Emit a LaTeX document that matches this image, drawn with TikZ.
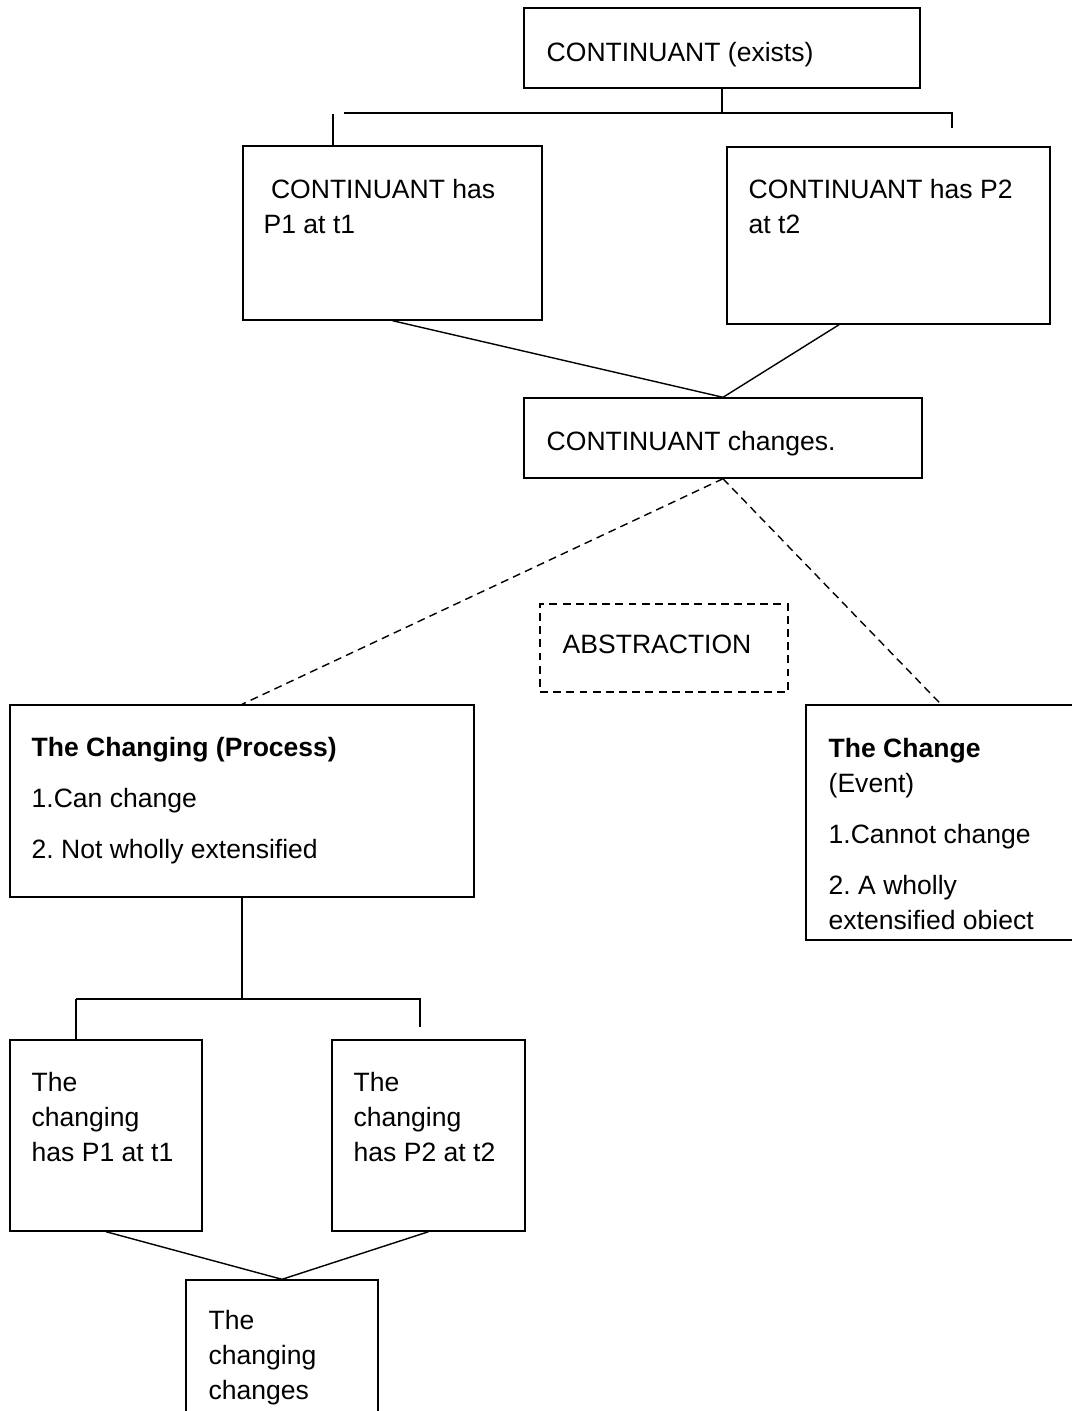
\documentclass[tikz,border=0pt]{standalone}
\usepackage{fontspec}
\setmainfont{Liberation Sans}
\frenchspacing
\usetikzlibrary{fit}

\begin{document}
\begin{tikzpicture}[x=0.02cm, y=-0.02cm, line width=0.8pt,
    box/.style={draw, inner sep=0pt},
    txt/.style={anchor=base west, align=left, inner sep=0pt,
      font=\fontsize{15.1}{19.9}\selectfont},
    dashline/.style={dash pattern=on 4.5pt off 3pt}]
  \clip (0,0) rectangle (1072,1411);
  % boxes
  \node[box, fit={(524,8) (920,88)}] (top) {};
  \node[box, fit={(243,146) (542,320)}] (hasP1) {};
  \node[box, fit={(727,147) (1050,324)}] (hasP2) {};
  \node[box, fit={(524,398) (922,478)}] (chg) {};
  \node[box, fit={(540,604) (788,692)}, dashline] (abs) {};
  \node[box, fit={(10,705) (474,897)}] (proc) {};
  \node[box, fit={(806,705) (1076,940)}] (evt) {};
  \node[box, fit={(10,1040) (202,1231)}] (cp1) {};
  \node[box, fit={(332,1040) (525,1231)}] (cp2) {};
  \node[box, fit={(186,1280) (378,1430)}] (cc) {};
  % texts (anchored at the baseline of the last line)
  \node[txt] (topT) at (546,61) {CONTINUANT (exists)};
  \node[txt] (hasP1T) at (263,233) {\ CONTINUANT has\\P1 at t1};
  \node[txt] (hasP2T) at (748,233) {CONTINUANT has P2\\at t2};
  \node[txt] (chgT) at (546,450) {CONTINUANT changes.};
  \node[txt] (absT) at (562,653) {ABSTRACTION};
  \node[txt] (procT) at (31,858) {\textbf{The Changing (Process)}\\[9pt]1.Can change\\[9pt]2. Not wholly extensified};
  \node[txt] (evtT) at (828,929) {\textbf{The Change}\\(Event)\\[9pt]1.Cannot change\\[9pt]2. A wholly\\extensified obiect};
  \node[txt] (cp1T) at (31,1161) {The\\changing\\has P1 at t1};
  \node[txt] (cp2T) at (353,1161) {The\\changing\\has P2 at t2};
  \node[txt] (ccT) at (208,1399) {The\\changing\\changes};
  % upper bracket
  \coordinate (brkL) at (344,113);
  \coordinate (brkR) at (952,113);
  \coordinate (brkRe) at (952,128);
  \coordinate (brkP) at (333,114);
  \draw (top.south) -- (top.south |- brkL);
  \draw (brkL) -- (brkR) -- (brkRe);
  \draw (brkP) -- (brkP |- hasP1.north);
  \draw (hasP1.south) -- (chg.north);
  \draw (hasP2.241) -- (chg.north);
  % abstraction
  \draw[dashline] (chg.south) -- (proc.north);
  \draw[dashline] (chg.south) -- (evt.north);
  % lower bracket
  \coordinate (brk2L) at (76,999);
  \coordinate (brk2R) at (420,999);
  \coordinate (brk2Re) at (420,1027);
  \draw (proc.south) -- (proc.south |- brk2L);
  \draw (brk2L) -- (brk2R) -- (brk2Re);
  \draw (brk2L) -- (brk2L |- cp1.north);
  \draw (cp1.south) -- (cc.north);
  \draw (cp2.south) -- (cc.north);
\end{tikzpicture}
\end{document}
